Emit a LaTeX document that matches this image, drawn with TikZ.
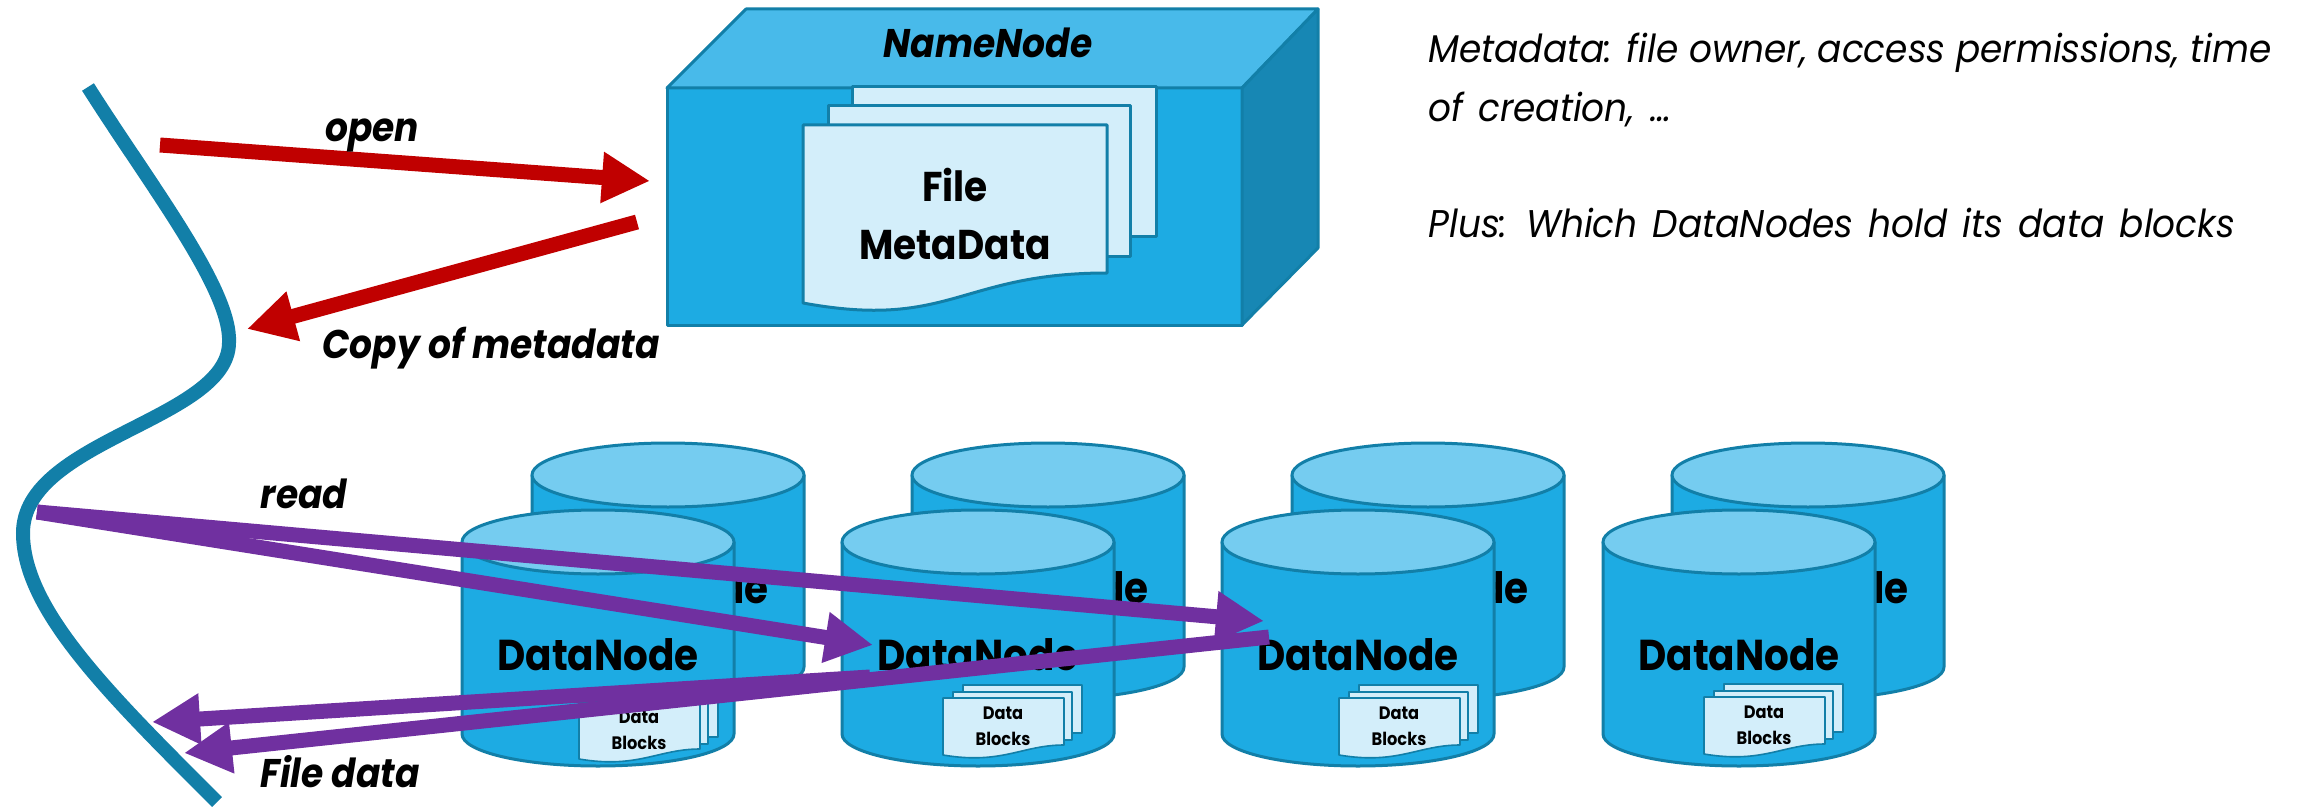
\documentclass[tikz,border=0pt]{standalone}
\usepackage{fontspec}
\setmainfont{Poppins}
\newfontfamily\labelfont[FakeStretch=0.9]{Poppins}
\newfontfamily\notefont[FakeStretch=0.93]{Poppins}
\usepackage{tikz}
\usetikzlibrary{arrows.meta}
\definecolor{boxblue}{HTML}{1DABE3}
\definecolor{lidblue}{HTML}{75CCF0}
\definecolor{topblue}{HTML}{48BAEA}
\definecolor{sideblue}{HTML}{1787B4}
\definecolor{edgeblue}{HTML}{127FA8}
\definecolor{pageblue}{HTML}{D3EEFA}
\definecolor{arrowred}{HTML}{C00000}
\definecolor{arrowpurple}{HTML}{7030A0}
\tikzset{
  solid face/.style={draw=edgeblue,line width=1.5pt,line join=round},
  bold label/.style={font=\labelfont\fontsize{20.8}{24}\selectfont\bfseries,inner sep=0pt,anchor=base},
  cyl label/.style={font=\labelfont\fontsize{21.6}{24}\selectfont\bfseries,inner sep=0pt,anchor=base},
  flow label/.style={font=\labelfont\fontsize{20}{24}\selectfont\bfseries\itshape,inner sep=0pt,anchor=base},
  note label/.style={font=\notefont\fontsize{19.3}{23}\selectfont\itshape,inner sep=0pt,anchor=base west},
  wide note/.style={note label,execute at begin node={\spaceskip=7.6pt\relax}},
  block label/.style={font=\labelfont\fontsize{9}{11}\selectfont\bfseries,inner sep=0pt,anchor=base},
  red arrow/.style={draw=arrowred,line width=7.5pt,-{Triangle[length=24pt,width=24pt]}},
  purple arrow/.style={draw=arrowpurple,line width=7.5pt,-{Triangle[length=24pt,width=24pt]}},
}
\newcommand{\drawcyl}[3]{% centre x, centre y of the lid, label name
  \fill[boxblue,solid face] (#1-136,#2) -- (#1-136,#2+192) arc[start angle=180,end angle=0,x radius=136,y radius=32] -- (#1+136,#2) -- cycle;
  \fill[lidblue,solid face] (#1,#2) ellipse[x radius=136,y radius=32];
  \node[cyl label] (#3) at (#1,#2+128) {DataNode};
}
\begin{document}
\begin{tikzpicture}[x=0.5pt,y=-0.5pt]
\useasboundingbox (0,0) rectangle (2298,808);
% name node box
\fill[boxblue,solid face] (667,88) rectangle (1242,325);
\fill[topblue,solid face] (667,88) -- (746,9) -- (1318,9) -- (1242,88) -- cycle;
\fill[sideblue,solid face] (1242,88) -- (1318,9) -- (1318,248) -- (1242,325) -- cycle;
\node[flow label] (nName) at (988,58) {NameNode};
% pages
\fill[pageblue,solid face] (852,87) rectangle (1156,236);
\fill[pageblue,solid face] (828,106) rectangle (1130,256);
\fill[pageblue,solid face] (803,125) -- (1107,125) -- (1107,273) .. controls (960,273) and (950,330) .. (803,303) -- cycle;
\node[bold label] (nFile) at (955,201) {File};
\node[bold label] (nMeta) at (955,259) {MetaData};
% data nodes
\foreach \cx/\nm in {668/a,1048/b,1428/c,1808/d}
  \drawcyl{\cx}{475}{nBack\nm};
\foreach \cx/\px/\py/\nm in {598/0/4/a,978/-16/0/b,1358/0/0/c,1739/-16/-1/d}{
  \drawcyl{\cx}{542}{nData\nm}
  \begin{scope}[shift={(\cx+\px,\py)}]
    \fill[pageblue,solid face,line width=0.8pt] (1,685) rectangle (120,733);
    \fill[pageblue,solid face,line width=0.8pt] (-9,692) rectangle (110,740);
    \fill[pageblue,solid face,line width=0.8pt] (-19,698) -- (102,698) -- (102,745) .. controls (60,745) and (40,765) .. (-19,755) -- cycle;
    \node[block label] (nBlk\nm) at (41,719) {Data};
    \node[block label] at (41,745) {Blocks};
  \end{scope}
}
% client curve
\coordinate (cStart) at (88,87);
\coordinate (cEnd) at (217,802);
\draw[edgeblue,line width=7pt] (cStart) .. controls (150,185) and (232,290) .. (229,343) .. controls (228,420) and (23,440) .. (23,533) .. controls (23,610) and (110,695) .. (cEnd);
% arrows
\coordinate (oS) at (160,145);
\coordinate (oE) at (650,181);
\coordinate (mS) at (637,222);
\coordinate (mE) at (247,329);
\draw[red arrow] (oS) -- (oE);
\draw[red arrow] (mS) -- (mE);
\node[flow label] (nOpen) at (372,141) {open};
\node[flow label] (nCopy) at (491,358) {Copy of metadata};
\coordinate (rS) at (37,512);
\coordinate (rA) at (873,645);
\coordinate (rB) at (1264,621);
\coordinate (fA) at (152,722);
\coordinate (fB) at (184,753);
\coordinate (sA) at (870,677);
\coordinate (sB) at (1269,637);
\draw[purple arrow] (rS) -- (rA);
\draw[purple arrow] (rS) -- (rB);
\draw[purple arrow] (sA) -- (fA);
\draw[purple arrow] (sB) -- (fB);
\node[flow label] (nRead) at (304,508) {read};
\node[flow label] (nFiledata) at (340,787) {File data};
% notes
\node[note label] (nNoteA) at (1428,63) {Metadata: file owner, access permissions, time};
\node[wide note] (nNoteB) at (1428,122) {of creation, …};
\node[wide note] (nNoteC) at (1428,237) {Plus: Which DataNodes hold its data blocks};
\end{tikzpicture}
\end{document}
